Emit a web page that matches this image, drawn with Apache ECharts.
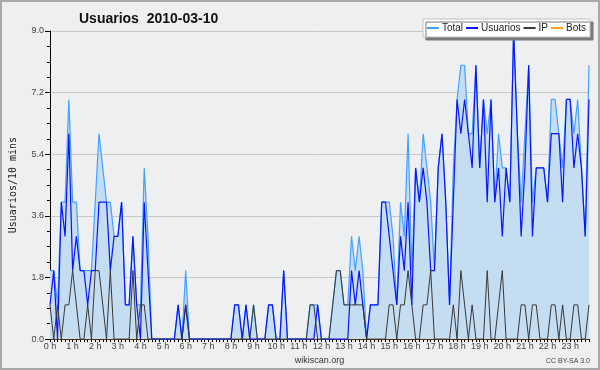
<!DOCTYPE html>
<html><head><meta charset="utf-8">
<script src="https://cdn.jsdelivr.net/npm/echarts@6/dist/echarts.min.js"></script>
<style>html,body{margin:0;padding:0;background:#efefef;}#c{width:600px;height:370px;}</style>
</head><body><div id="c"></div>
<script>
const hourLabels = ["0 h","1 h","2 h","3 h","4 h","5 h","6 h","7 h","8 h","9 h","10 h","11 h","12 h","13 h","14 h","15 h","16 h","17 h","18 h","19 h","20 h","21 h","22 h","23 h"];
const minuteSteps = ["00","10","20","30","40","50"];
const yTicks = [0, 1.8, 3.6, 5.4, 7.2, 9.0];

const total = [
 2,2,1,4,4,7,4,4,2,2,2,2,
 4,6,5,4,4,3,3,4,1,1,3,1,
 1,5,3,0,0,0,0,0,0,0,1,0,
 2,0,0,0,0,0,0,0,0,0,0,0,
 0,1,1,0,1,0,1,0,0,0,1,1,
 0,0,2,0,0,0,0,0,0,1,1,1,
 0,0,0,1,2,2,1,1,3,2,3,2,
 0,1,1,1,4,4,4,3,1,4,3,6,
 2,5,4,6,5,4,2,5,6,4,1,5,
 7,8,8,6,6,8,5,7,6,7,4,6,
 5,5,4,9,6,4,6,8,4,5,5,5,
 4,7,7,6,5,7,7,6,7,5,3,8];
const usuarios = [
 1,2,0,4,3,6,2,3,2,2,1,2,
 2,4,4,4,2,3,3,4,1,1,3,1,
 0,4,2,0,0,0,0,0,0,0,1,0,
 1,0,0,0,0,0,0,0,0,0,0,0,
 0,1,1,0,1,0,0,0,0,0,1,1,
 0,0,2,0,0,0,0,0,0,0,0,1,
 0,0,0,0,0,0,0,0,2,1,2,1,
 0,1,1,1,4,4,3,2,1,3,2,4,
 1,5,4,5,4,2,2,5,6,4,1,4,
 7,6,7,6,5,8,5,7,4,7,4,5,
 3,5,4,9,6,3,5,8,3,5,5,5,
 4,6,6,6,4,7,7,5,6,5,3,7];
const ip = [
 1,0,1,0,1,1,2,1,0,0,1,0,
 2,2,1,0,2,0,0,0,0,0,2,0,
 1,1,0,0,0,0,0,0,0,0,0,0,
 1,0,0,0,0,0,0,0,0,0,0,0,
 0,0,0,0,0,0,1,0,0,0,0,0,
 0,0,0,0,0,0,0,0,0,1,1,0,
 0,0,0,1,2,2,1,1,1,1,1,1,
 0,0,0,0,0,0,1,1,0,1,1,2,
 1,0,0,1,1,2,0,0,0,0,0,1,
 0,2,1,0,1,0,0,0,2,0,0,1,
 2,0,0,0,0,1,1,0,1,1,0,0,
 0,1,1,0,1,0,0,1,1,0,0,1];
const bots = [
 0,0,0,0,0,0,0,0,0,0,0,0,
 0,0,0,0,0,0,0,0,0,0,0,0,
 0,0,0,0,0,0,0,0,0,0,0,0,
 0,0,0,0,0,0,0,0,0,0,0,0,
 0,0,0,0,0,0,0,0,0,0,0,0,
 0,0,0,0,0,0,0,0,0,0,0,0,
 0,0,0,0,0,0,0,0,0,0,0,0,
 0,0,0,0,0,0,0,0,0,0,0,0,
 0,0,0,0,0,0,0,0,0,0,0,0,
 0,0,0,0,0,0,0,0,0,0,0,0,
 0,0,0,0,0,0,0,0,0,0,0,0,
 0,0,0,0,0,0,0,0,0,0,0,0];

const times = [];
hourLabels.forEach((h, hi) => minuteSteps.forEach(m => times.push(hi + ':' + m)));

const chart = echarts.init(document.getElementById('c'), null, {renderer: 'canvas'});
const font = 'Liberation Sans';
chart.setOption({
  animation: false,
  backgroundColor: '#efefef',
  title: {
    text: 'Usuarios  2010-03-10', left: 74, top: 7,
    textStyle: {fontFamily: font, fontSize: 14, fontWeight: 'bold', color: '#111'}
  },
  legend: {
    right: 10, top: 19, itemWidth: 12, itemHeight: 2, itemGap: 3, icon: 'rect',
    backgroundColor: '#fff', borderColor: '#c0c0c0', borderWidth: 1, padding: [4, 4, 4, 4],
    shadowColor: '#7a7a7a', shadowOffsetX: 3, shadowOffsetY: 3, shadowBlur: 0,
    textStyle: {fontFamily: font, fontSize: 10, color: '#222', padding: [0, 0, 0, -2]},
    data: ['Total', 'Usuarios', 'IP', 'Bots']
  },
  grid: {left: 46, right: 11, top: 31, bottom: 26, show: true, backgroundColor: '#edeff1', borderWidth: 0},
  xAxis: {
    type: 'category', data: times, boundaryGap: false,
    name: 'wikiscan.org', nameLocation: 'middle', nameGap: 16,
    nameTextStyle: {fontFamily: font, fontSize: 9, color: '#333'},
    axisLine: {lineStyle: {color: '#000', width: 1}},
    axisTick: {show: true, interval: 0, length: 3, lineStyle: {color: '#000'}},
    axisLabel: {interval: 5, margin: 3, fontFamily: font, fontSize: 9, color: '#444',
      formatter: (v, i) => hourLabels[Math.round(i / 6)]},
    splitLine: {show: false}
  },
  yAxis: {
    type: 'value', min: yTicks[0], max: yTicks[yTicks.length - 1], interval: 1.8,
    name: 'Usuarios/10 mins', nameLocation: 'middle', nameGap: 32, nameRotate: 90,
    nameTextStyle: {fontFamily: 'DejaVu Sans Mono', fontSize: 10, color: '#222'},
    axisLine: {show: true, lineStyle: {color: '#000', width: 1}},
    axisTick: {show: true, length: 5, lineStyle: {color: '#000'}},
    minorTick: {show: true, splitNumber: 4, length: 3, lineStyle: {color: '#000'}},
    axisLabel: {margin: 6, fontFamily: font, fontSize: 9, color: '#444', formatter: v => v.toFixed(1)},
    splitLine: {show: true, lineStyle: {color: '#c8c8c8', width: 1}}
  },
  graphic: [
    {type: 'rect', shape: {x: 1, y: 1, width: 598, height: 368}, style: {fill: 'none', stroke: '#a8a8a8', lineWidth: 2}, silent: true},
    {type: 'text', right: 10, bottom: 5, style: {text: 'CC BY-SA 3.0', fontFamily: font, fontSize: 7, fill: '#444'}}
  ],
  series: [
    {name: 'Total', type: 'line', data: total, showSymbol: false, z: 2,
     lineStyle: {color: '#45a0ff', width: 1.2}, itemStyle: {color: '#45a0ff'},
     areaStyle: {color: '#c5ddf1', opacity: 1}},
    {name: 'Usuarios', type: 'line', data: usuarios, showSymbol: false, z: 3,
     lineStyle: {color: '#0a14ff', width: 1.2}, itemStyle: {color: '#0a14ff'}},
    {name: 'IP', type: 'line', data: ip, showSymbol: false, z: 4,
     lineStyle: {color: '#383838', width: 1}, itemStyle: {color: '#383838'}},
    {name: 'Bots', type: 'line', data: bots, showSymbol: false, z: 1,
     lineStyle: {color: '#ffa020', width: 1}, itemStyle: {color: '#ffa020'}}
  ]
});
</script></body></html>
